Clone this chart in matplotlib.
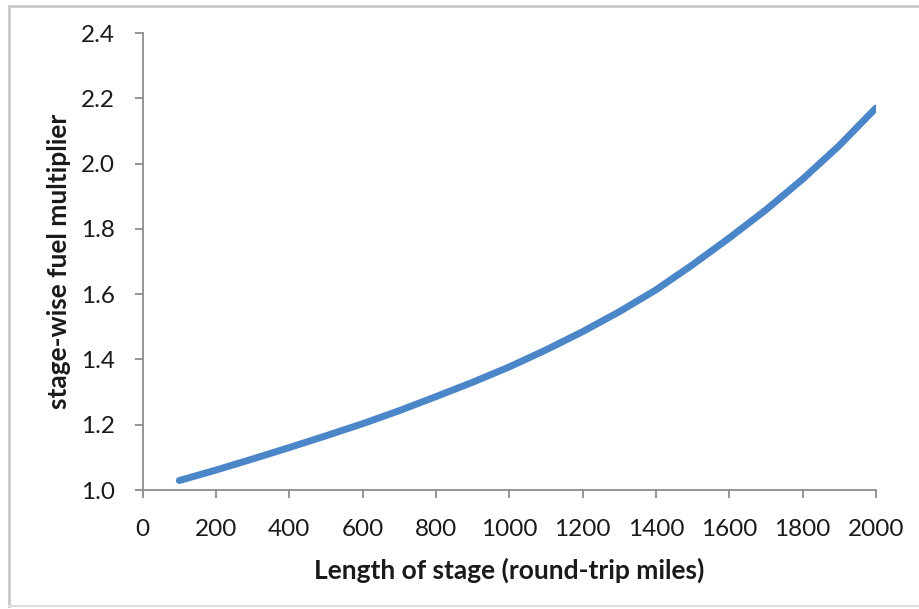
import matplotlib
matplotlib.use("Agg")
import matplotlib.pyplot as plt

# Data
stage_length = [100, 200, 300, 400, 500, 600, 700, 800, 900, 1000,
                1100, 1200, 1300, 1400, 1500, 1600, 1700, 1800, 1900, 2000]
fuel_multiplier = [1.029, 1.061, 1.095, 1.130, 1.166, 1.203, 1.243, 1.286, 1.330, 1.377,
                   1.429, 1.485, 1.546, 1.613, 1.690, 1.772, 1.858, 1.952, 2.055, 2.170]
x_ticks = list(range(0, 2001, 200))
y_ticks = [1.0, 1.2, 1.4, 1.6, 1.8, 2.0, 2.2, 2.4]

plt.rcParams['font.family'] = ['Lato', 'DejaVu Sans']

fig = plt.figure(figsize=(9.2, 6.09), dpi=100)
ax = fig.add_axes([0.155, 0.1954, 0.797, 0.7504])

ax.plot(stage_length, fuel_multiplier, color='#4A86C8', linewidth=5,
        solid_capstyle='round', solid_joinstyle='round')

ax.set_xlim(0, 2000)
ax.set_ylim(1.0, 2.4)
ax.set_xticks(x_ticks)
ax.set_xticklabels([str(v) for v in x_ticks])
ax.set_yticks(y_ticks)
ax.set_yticklabels([f"{v:.1f}" for v in y_ticks])

for s in ['top', 'right']:
    ax.spines[s].set_visible(False)
for s in ['left', 'bottom']:
    ax.spines[s].set_color('#8C8C8C')
    ax.spines[s].set_linewidth(1.3)

ax.tick_params(axis='both', direction='out', length=6, width=1.3, color='#8C8C8C',
               labelsize=17.5, labelcolor='#1a1a1a')
ax.tick_params(axis='x', pad=15)
ax.tick_params(axis='y', pad=14)

ax.set_xlabel('Length of stage (round-trip miles)', fontsize=19, fontweight='bold',
              color='#1a1a1a')
ax.set_ylabel('stage-wise fuel multiplier', fontsize=19, fontweight='bold',
              color='#1a1a1a')
ax.xaxis.set_label_coords(0.5, -0.148)
ax.yaxis.set_label_coords(-0.097, 0.5)

# Outer light-gray frame (left, top, bottom)
fig.add_artist(plt.Line2D([9/920, 9/920], [1 - 606/609, 1 - 6/609], transform=fig.transFigure,
                          color='#C8C8C8', linewidth=2))
fig.add_artist(plt.Line2D([9/920, 1.0], [1 - 6/609, 1 - 6/609], transform=fig.transFigure,
                          color='#C8C8C8', linewidth=2))
fig.add_artist(plt.Line2D([9/920, 1.0], [1 - 606/609, 1 - 606/609], transform=fig.transFigure,
                          color='#DDDDDD', linewidth=1.5))

fig.savefig('out.png', dpi=100)
